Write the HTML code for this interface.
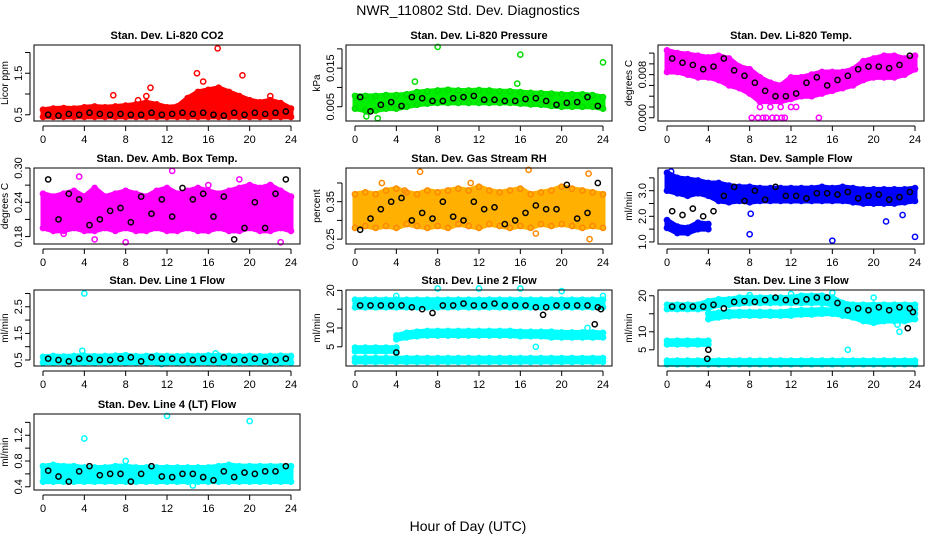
<!DOCTYPE html>
<html><head><meta charset="utf-8">
<style>
body{margin:0;background:#fff;width:936px;height:540px;overflow:hidden}
svg{display:block;font-family:"Liberation Sans",sans-serif}
</style></head>
<body>
<svg id="c" width="936" height="540">
<text x="468" y="15" text-anchor="middle" font-size="14">NWR_110802  Std. Dev. Diagnostics</text>
<text x="468" y="531" text-anchor="middle" font-size="14">Hour of Day (UTC)</text>
</svg>
<script>
const hours = [0,1,2,3,4,5,6,7,8,9,10,11,12,13,14,15,16,17,18,19,20,21,22,23,24];
const hoursEarly = [0,1,2,3,4];
const hoursLate = [4,5,6,7,8,9,10,11,12,13,14,15,16,17,18,19,20,21,22,23,24];
const blackHours = [0.5,1.5,2.5,3.5,4.5,5.5,6.5,7.5,8.5,9.5,10.5,11.5,12.5,13.5,14.5,15.5,16.5,17.5,18.5,19.5,20.5,21.5,22.5,23.5];
const xTicks = [0,4,8,12,16,20,24];

// Panel 1 CO2
const co2Lo = [0.45,0.45,0.45,0.45,0.45,0.45,0.45,0.45,0.45,0.45,0.45,0.45,0.45,0.45,0.45,0.45,0.45,0.45,0.45,0.45,0.45,0.45,0.45,0.45,0.45];
const co2Hi = [0.62,0.65,0.66,0.65,0.68,0.7,0.68,0.7,0.72,0.75,0.8,0.75,0.68,0.7,0.9,1.05,1.1,1.15,1.05,0.95,0.85,0.8,0.85,0.78,0.65];
const co2Black = [0.5,0.48,0.52,0.5,0.55,0.52,0.5,0.52,0.5,0.5,0.55,0.5,0.52,0.55,0.52,0.55,0.5,0.48,0.55,0.5,0.55,0.52,0.55,0.58];
const co2OutX = [6.8,9.2,10,10.4,14.9,15.5,16.9,19.3,18.2,22];
const co2OutY = [0.97,0.85,0.95,1.15,1.5,1.3,2.1,1.45,1.0,0.95];
// Panel 2 pressure
const presLo = [0.0045,0.004,0.004,0.0045,0.0045,0.005,0.0055,0.0058,0.006,0.006,0.006,0.006,0.006,0.006,0.006,0.006,0.0058,0.0056,0.0055,0.0052,0.005,0.005,0.005,0.005,0.0045];
const presHi = [0.0078,0.0078,0.0078,0.008,0.008,0.0082,0.0088,0.009,0.0092,0.0094,0.0092,0.0092,0.0093,0.0092,0.009,0.009,0.0088,0.0086,0.0085,0.0084,0.0082,0.0082,0.0082,0.008,0.0075];
const presBlack = [0.0075,0.0038,0.0055,0.0062,0.0052,0.0075,0.0072,0.0065,0.0065,0.0072,0.0075,0.0078,0.0068,0.0068,0.0065,0.0065,0.007,0.0072,0.0065,0.0055,0.006,0.0062,0.0075,0.0052];
const presOutX = [8,16,24,5.8,15.7,1.1,2.2];
const presOutY = [0.0205,0.0185,0.0165,0.0115,0.011,0.0025,0.002];
// Panel 3 Li-820 temp
const tempLo = [0.0085,0.0085,0.008,0.0075,0.0075,0.007,0.006,0.0055,0.0045,0.003,0.003,0.003,0.0035,0.004,0.004,0.0045,0.005,0.0055,0.006,0.007,0.0075,0.0075,0.0075,0.008,0.009];
const tempHi = [0.0125,0.012,0.0118,0.0115,0.0112,0.0115,0.011,0.0095,0.009,0.0075,0.0065,0.006,0.0075,0.0075,0.008,0.0085,0.0085,0.0085,0.009,0.0105,0.011,0.0115,0.0115,0.011,0.0115];
const tempBlack = [0.011,0.0102,0.0098,0.009,0.0095,0.011,0.0088,0.0078,0.0065,0.005,0.004,0.004,0.0045,0.0065,0.0075,0.006,0.007,0.0078,0.009,0.0095,0.0095,0.0092,0.0098,0.0115];
const tempOutX = [8.2,8.8,9.3,9.6,10.2,10.6,11.1,11.4,14.7,9,10,11,12,12.5];
const tempOutY = [0,0,0,0,0,0,0,0,0,0.002,0.002,0.002,0.002,0.002];
// Panel 4 amb box temp
const ambLo = [0.195,0.19,0.19,0.195,0.19,0.19,0.195,0.19,0.195,0.19,0.19,0.195,0.19,0.19,0.195,0.19,0.19,0.195,0.19,0.19,0.195,0.19,0.19,0.195,0.19];
const ambHi = [0.255,0.25,0.255,0.26,0.25,0.265,0.25,0.255,0.26,0.255,0.25,0.26,0.265,0.255,0.26,0.265,0.26,0.255,0.26,0.265,0.27,0.265,0.27,0.26,0.25];
const ambBlack = [0.28,0.21,0.255,0.245,0.2,0.21,0.225,0.23,0.205,0.25,0.22,0.245,0.215,0.265,0.245,0.255,0.215,0.25,0.175,0.195,0.24,0.195,0.255,0.28];
const ambOutX = [8,5,2,12.5,19,22,23,3.5,16];
const ambOutY = [0.17,0.175,0.185,0.295,0.28,0.27,0.17,0.285,0.27];
// Panel 5 RH
const rhLo = [0.28,0.285,0.28,0.285,0.28,0.29,0.285,0.28,0.285,0.28,0.29,0.285,0.28,0.29,0.285,0.28,0.285,0.28,0.29,0.285,0.29,0.285,0.28,0.285,0.28];
const rhHi = [0.37,0.375,0.37,0.38,0.385,0.375,0.37,0.38,0.375,0.38,0.385,0.38,0.39,0.38,0.375,0.38,0.385,0.37,0.375,0.38,0.39,0.385,0.38,0.375,0.37];
const rhBlack = [0.275,0.305,0.33,0.35,0.36,0.3,0.32,0.305,0.35,0.31,0.3,0.35,0.33,0.335,0.29,0.3,0.32,0.34,0.33,0.33,0.395,0.305,0.32,0.4];
const rhOutX = [6.3,16.8,2.6,22.6,4.8,17.5,22.7,11.2];
const rhOutY = [0.43,0.435,0.4,0.425,0.38,0.265,0.25,0.4];
// Panel 6 sample flow
const sfLo = [3.0,2.9,2.8,2.9,2.8,2.6,2.55,2.6,2.55,2.6,2.6,2.6,2.6,2.6,2.6,2.6,2.6,2.6,2.55,2.5,2.5,2.5,2.5,2.55,2.6];
const sfHi = [3.7,3.5,3.45,3.4,3.3,3.3,3.2,3.15,3.15,3.1,3.1,3.1,3.1,3.1,3.1,3.15,3.1,3.15,3.1,3.05,3.05,3.05,3.05,3.05,3.1];
const sfEarlyLo = [1.55,1.35,1.35,1.5,1.5];
const sfEarlyHi = [1.85,1.6,1.55,1.75,1.7];
const sfBlack = [2.2,2.05,2.3,2.0,2.2,2.8,3.15,2.6,3.0,2.65,3.15,2.8,2.8,2.7,2.9,2.9,2.85,2.95,2.7,2.8,2.85,2.65,2.75,2.95];
const sfOutX = [8,16,24,8.1,21.2,22.8,0.4];
const sfOutY = [1.3,1.05,1.2,2.1,1.8,2.05,3.75];
// Panel 7 line 1
const l1Lo = [0.4,0.4,0.4,0.4,0.4,0.4,0.4,0.4,0.4,0.4,0.4,0.4,0.4,0.4,0.4,0.4,0.4,0.4,0.4,0.4,0.4,0.4,0.4,0.4,0.4];
const l1Hi = [0.62,0.65,0.63,0.65,0.66,0.64,0.65,0.66,0.68,0.64,0.65,0.66,0.65,0.64,0.66,0.65,0.67,0.66,0.65,0.64,0.65,0.64,0.65,0.66,0.65];
const l1Black = [0.55,0.5,0.45,0.55,0.55,0.5,0.5,0.55,0.6,0.45,0.6,0.55,0.55,0.5,0.5,0.55,0.5,0.6,0.5,0.5,0.55,0.45,0.5,0.55];
const l1OutX = [4,3.8,11.5,16.7];
const l1OutY = [3.0,0.85,0.35,0.75];
// Panel 8 line 2
const l2BotLo = [1,1,1,1,1,1,1,1,1,1,1,1,1,1,1,1,1,1,1,1,1,1,1,1,1];
const l2BotHi = [2,2,2,2,2,2,2,2,2,2,2,2,2,2,2,2,2,2,2,2,2,2,2,2,2];
const l2EarlyLo = [3.8,3.8,3.8,3.8,3.8];
const l2EarlyHi = [4.8,4.8,4.8,4.8,4.8];
const l2MidLo = [7,7.5,7.8,8,8,8,8,8,8,8,8,8,7.8,7.8,7.8,7.5,7.5,7.5,7.5,7.5,7.5];
const l2MidHi = [8,8.7,9,9.2,9.2,9.2,9.2,9.2,9.2,9.2,9.2,9.2,9,9,9,9,8.8,8.8,8.8,8.8,8.7];
const l2TopLo = [15.5,15.5,15.5,15.5,15.5,15.5,15.5,15.5,15.5,15.5,15.5,15.5,15.5,15.5,15.5,15.5,15.5,15.5,15.5,15.5,15.5,15.5,15.5,15.5,15.5];
const l2TopHi = [17.5,17.5,17.5,17.5,17.5,17.5,17.5,17.5,17.5,17.5,17.5,17.5,17.5,17.5,17.5,17.5,17.5,17.5,17.5,17.5,17.5,17.5,17.5,17.5,17.5];
const l2Black = [16,16,16,16,16,15.5,15,14,16,16,16.5,16,16,16.5,16,16,16,15.5,15.5,16,16,16,16,15.5];
const l2BlackOutX = [4,18.2,23.2,23.8];
const l2BlackOutY = [3.5,13.5,11,15];
const l2OutX = [4,8,12,16,20,17.5,24,22.5];
const l2OutY = [18.5,20.5,20.5,20.5,19.8,5,18.5,10];
// Panel 9 line 3
const l3TopLo = [16.3,16.3,16.3,16.3,16.5,17.5,17.5,17.8,18,18,18,18,18,18,18,18,17.5,16.5,15.5,15.5,15.5,15.5,15.5,15.5,16.3];
const l3TopHi = [17.5,17.5,17.5,17.5,18.5,19,19,19.5,19.5,19.5,19.5,19.5,19.5,20,20,20,19.5,18,17.5,17.5,17.5,17.5,17.5,17.5,17.5];
const l3MidLo = [13.5,14,14.3,14.5,14.5,14.5,14.5,14.5,14.5,14.8,14.8,15,15,14.5,14,13,12.5,13,13,13,13.5];
const l3MidHi = [15,15.3,15.5,15.5,15.5,15.5,15.5,15.5,15.8,16,16,16.2,16,15.5,15,14.5,14,14.5,14.5,14.5,15];
const l3EarlyLo = [6.5,6.5,6.5,6.5,6.5];
const l3EarlyHi = [7.5,7.5,7.5,7.5,7.5];
const l3Black = [17,17,17,17,17.5,16.5,18.3,18.5,18.3,18.8,19.5,18.8,18.5,19,19.5,19.5,18,16,16.5,16,16.8,16,16.8,16.5];
const l3BlackOutX = [3.9,4,23.3,23.8];
const l3BlackOutY = [2.5,5,11,15.5];
const l3OutX = [8,12,16,20,17.5,22.5,22.3];
const l3OutY = [20.2,20.5,20.8,19.5,5,10,12];
// Panel 10 line 4
const l4Lo = [0.48,0.48,0.48,0.48,0.48,0.48,0.48,0.48,0.48,0.48,0.48,0.48,0.48,0.48,0.48,0.48,0.48,0.48,0.48,0.48,0.48,0.48,0.48,0.48,0.48];
const l4Hi = [0.72,0.74,0.72,0.72,0.7,0.7,0.7,0.72,0.72,0.7,0.7,0.7,0.7,0.7,0.7,0.7,0.7,0.72,0.74,0.72,0.72,0.72,0.72,0.72,0.72];
const l4Black = [0.65,0.56,0.48,0.64,0.72,0.58,0.6,0.6,0.48,0.6,0.72,0.56,0.55,0.6,0.6,0.55,0.5,0.64,0.55,0.62,0.6,0.64,0.64,0.72];
const l4OutX = [4,12,20,3.8,14.5,8];
const l4OutY = [1.15,1.5,1.42,0.6,0.42,0.8];

const NS='http://www.w3.org/2000/svg';
const svg=document.getElementById('c');
function mk(tag,attrs,parent){const e=document.createElementNS(NS,tag);for(const k in attrs)e.setAttribute(k,attrs[k]);(parent||svg).appendChild(e);return e;}

const colL=[34,346,658], rowT=[45,168,290,414], H=76, W=266;
const panels=[
 {name:'co2',title:'Stan. Dev. Li-820 CO2',yl:'Licor ppm',c:0,r:0,y0:0.35,y1:2.18,ticks:[0.5,1,1.5,2],tl:['0.5','','1.5',''],col:'#ff0000',fill:'#ff0000',
  bands:[[hours,co2Lo,co2Hi]],black:co2Black,out:[co2OutX,co2OutY],bout:null},
 {name:'pressure',title:'Stan. Dev. Li-820 Pressure',yl:'kPa',c:1,r:0,y0:0.0013,y1:0.021,ticks:[0.005,0.01,0.015,0.02],tl:['0.005','','0.015',''],col:'#00dd00',fill:'#00ee00',
  bands:[[hours,presLo,presHi]],black:presBlack,out:[presOutX,presOutY],bout:null},
 {name:'li820-temp',title:'Stan. Dev. Li-820 Temp.',yl:'degrees C',c:2,r:0,y0:-0.0006,y1:0.0135,ticks:[0,0.002,0.004,0.006,0.008,0.01,0.012],tl:['0.000','','','','0.008','',''],col:'#ff00ff',fill:'#ff00ff',
  bands:[[hours,tempLo,tempHi]],black:tempBlack,out:[tempOutX,tempOutY],bout:null},
 {name:'amb-box-temp',title:'Stan. Dev. Amb. Box Temp.',yl:'degrees C',c:0,r:1,y0:0.167,y1:0.30,ticks:[0.18,0.21,0.24,0.27,0.30],tl:['0.18','','0.24','','0.30'],col:'#ff00ff',fill:'#ff00ff',
  bands:[[hours,ambLo,ambHi]],black:ambBlack,out:[ambOutX,ambOutY],bout:null},
 {name:'gas-stream-rh',title:'Stan. Dev. Gas Stream RH',yl:'percent',c:1,r:1,y0:0.237,y1:0.44,ticks:[0.25,0.30,0.35,0.40],tl:['0.25','','0.35',''],col:'#ff8800',fill:'#ffb000',
  bands:[[hours,rhLo,rhHi]],black:rhBlack,out:[rhOutX,rhOutY],bout:null},
 {name:'sample-flow',title:'Stan. Dev. Sample Flow',yl:'ml/min',c:2,r:1,y0:0.92,y1:3.885,ticks:[1,1.5,2,2.5,3,3.5],tl:['1.0','','2.0','','3.0',''],col:'#0000ff',fill:'#0000ff',
  bands:[[hours,sfLo,sfHi],[hoursEarly,sfEarlyLo,sfEarlyHi]],black:sfBlack,out:[sfOutX,sfOutY],bout:null},
 {name:'line1-flow',title:'Stan. Dev. Line 1 Flow',yl:'ml/min',c:0,r:2,y0:0.275,y1:3.13,ticks:[0.5,1,1.5,2,2.5,3],tl:['0.5','','1.5','','2.5',''],col:'#00ffff',fill:'#00ffff',
  bands:[[hours,l1Lo,l1Hi]],black:l1Black,out:[l1OutX,l1OutY],bout:null},
 {name:'line2-flow',title:'Stan. Dev. Line 2 Flow',yl:'ml/min',c:1,r:2,y0:-0.1,y1:20.1,ticks:[5,10,15,20],tl:['5','10','','20'],col:'#00ffff',fill:'#00ffff',
  bands:[[hours,l2BotLo,l2BotHi],[hoursEarly,l2EarlyLo,l2EarlyHi],[hoursLate,l2MidLo,l2MidHi],[hours,l2TopLo,l2TopHi]],black:l2Black,out:[l2OutX,l2OutY],bout:[l2BlackOutX,l2BlackOutY]},
 {name:'line3-flow',title:'Stan. Dev. Line 3 Flow',yl:'ml/min',c:2,r:2,y0:0.5,y1:21.6,ticks:[5,10,15,20],tl:['5','10','','20'],col:'#00ffff',fill:'#00ffff',
  bands:[[hours,l2BotLo,l2BotHi],[hoursEarly,l3EarlyLo,l3EarlyHi],[hoursLate,l3MidLo,l3MidHi],[hours,l3TopLo,l3TopHi]],black:l3Black,out:[l3OutX,l3OutY],bout:[l3BlackOutX,l3BlackOutY]},
 {name:'line4-flow',title:'Stan. Dev. Line 4 (LT) Flow',yl:'ml/min',c:0,r:3,y0:0.35,y1:1.53,ticks:[0.4,0.6,0.8,1.0,1.2,1.4],tl:['0.4','','0.8','','1.2',''],col:'#00ffff',fill:'#00ffff',
  bands:[[hours,l4Lo,l4Hi]],black:l4Black,out:[l4OutX,l4OutY],bout:null}
];

panels.forEach(p=>{
  const L=colL[p.c], T=rowT[p.r], B=T+H, R=L+W;
  const xs=h=>L+9+h*(248/24);
  const ys=v=>B-(v-p.y0)/(p.y1-p.y0)*H;
  const g=mk('g',{});
  
  
  const t=mk('text',{x:(L+R)/2,y:T-6,'text-anchor':'middle','font-size':11,'font-weight':'bold'},g);
  t.textContent=p.title;
  
  
  // bands
  const bg=mk('g',{},g);
  
  
  p.bands.forEach(b=>{
    const [hx,lo,hi]=b;
    let pts=hx.map((h,i)=>xs(h)+','+ys(hi[i]));
    pts=pts.concat(hx.map((h,i)=>xs(h)+','+ys(lo[i])).reverse());
    const poly=mk('polygon',{points:pts.join(' '),fill:p.fill,stroke:p.fill,'stroke-width':5,'stroke-linejoin':'round'},bg);
    
    
    hx.forEach((h,i)=>{
      [lo[i],hi[i]].forEach(v=>{
        const c=mk('circle',{cx:xs(h),cy:ys(v),r:2.6,fill:'none',stroke:p.col,'stroke-width':1.5},bg);
        
        
      });
    });
  });
  p.out[0].forEach((h,i)=>{
    const c=mk('circle',{cx:xs(h),cy:ys(p.out[1][i]),r:2.6,fill:'none',stroke:p.col,'stroke-width':1.5},g);
    
    
  });
  p.black.forEach((v,i)=>{
    const c=mk('circle',{cx:xs(blackHours[i]),cy:ys(v),r:2.6,fill:'none',stroke:'#000','stroke-width':1.5},g);
    
    
  });
  if(p.bout) p.bout[0].forEach((h,i)=>{
    const c=mk('circle',{cx:xs(h),cy:ys(p.bout[1][i]),r:2.6,fill:'none',stroke:'#000','stroke-width':1.5},g);
    
    
  });
  const box=mk('rect',{x:L,y:T,width:W,height:H,fill:'none',stroke:'#000','stroke-width':1},g);
  
  
  // x axis
  const xa=mk('g',{},g);
  
  
  mk('line',{x1:xs(0),x2:xs(24),y1:B+5,y2:B+5,stroke:'#000'},xa);
  xTicks.forEach(h=>{
    mk('line',{x1:xs(h),x2:xs(h),y1:B+5,y2:B+10,stroke:'#000'},xa);
    const tx=mk('text',{x:xs(h),y:B+22,'text-anchor':'middle','font-size':11},xa);
    tx.textContent=h;
  });
  // y axis
  const ya=mk('g',{},g);
  
  
  const yt=p.ticks;
  mk('line',{x1:L-4,x2:L-4,y1:ys(yt[0]),y2:ys(yt[yt.length-1]),stroke:'#000'},ya);
  yt.forEach((v,i)=>{
    mk('line',{x1:L-4,x2:L-9,y1:ys(v),y2:ys(v),stroke:'#000'},ya);
    if(p.tl[i]){
      const tx=mk('text',{x:L-12,y:ys(v),'text-anchor':'middle','font-size':11,transform:'rotate(-90 '+(L-12)+' '+ys(v)+')'},ya);
      tx.textContent=p.tl[i];
    }
  });
  const ylab=mk('text',{x:L-26,y:(T+B)/2,'text-anchor':'middle','font-size':10,transform:'rotate(-90 '+(L-26)+' '+(T+B)/2+')'},g);
  ylab.textContent=p.yl;
  
  
});
</script>
</body></html>
